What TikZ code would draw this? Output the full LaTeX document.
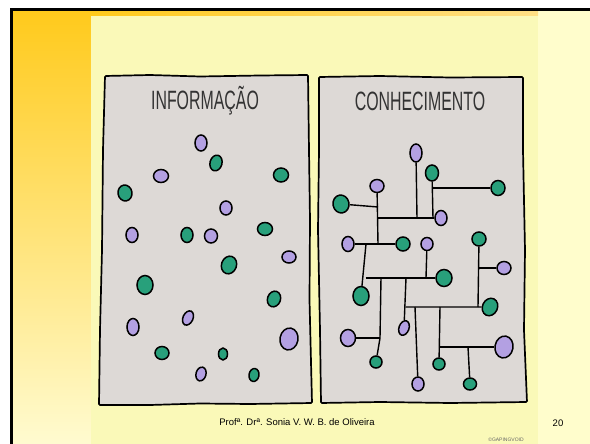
\documentclass[tikz,border=0pt]{standalone}
\usepackage{fontspec}
\setmainfont{Liberation Sans}
\newfontfamily\titlefont[FakeStretch=0.6]{Liberation Sans}
\usetikzlibrary{shapes.geometric}

\definecolor{dotgreen}{HTML}{28A07B}
\definecolor{dotpurple}{HTML}{B3A0E2}
\definecolor{panelgray}{HTML}{DDD9D6}
\definecolor{picyellow}{HTML}{FAF9B8}
\definecolor{slidecream}{HTML}{FFFDCC}
\definecolor{slideorange}{HTML}{FFCA1C}
\definecolor{slidepale}{HTML}{FFFBD0}
\definecolor{bandlight}{HTML}{FFDF85}

\tikzset{
  dot/.style={ellipse, draw=black, line width=1.5pt, inner sep=0pt},
  gdot/.style={dot, fill=dotgreen},
  pdot/.style={dot, fill=dotpurple},
  wire/.style={line width=1.4pt},
  panel/.style={draw=black, line width=1.7pt, fill=panelgray, rounded corners=1pt},
  paneltitle/.style={font=\titlefont\fontsize{26.5}{28}\selectfont, text=black!80},
}

\begin{document}
\begin{tikzpicture}[x=1pt,y=-1pt]
\useasboundingbox (0,0) rectangle (590,444);

% slide background
\fill[white] (0,0) rectangle (590,444);
\fill[slidecream] (13,11) rectangle (590,444);
\shade[top color=slideorange, bottom color=slidepale] (13,11) rectangle (91,444);
\shade[left color=slideorange, right color=bandlight] (91,11) rectangle (538,16);
\fill[picyellow] (91,16) rectangle (538,444);
\draw[line width=3pt] (11.5,9.5) rectangle (600,460);

% the two panels
\draw[panel] (105,76) -- (150,75) -- (200,76.5) -- (260,75.5) -- (308,75)
  -- (309,150) -- (310,220) -- (309.5,300) -- (312,403) -- (250,404)
  -- (200,403.5) -- (150,405) -- (99,405) -- (100,330) -- (102,250)
  -- (103,150) -- cycle;
\draw[panel] (319,77) -- (380,76) -- (450,77.5) -- (523,77) -- (523,150)
  -- (525,250) -- (524,330) -- (527,402) -- (450,403) -- (380,402)
  -- (321,403) -- (320,330) -- (318,230) -- (319,150) -- cycle;

\node[paneltitle] (tinfo) at (205,101) {INFORMAÇÃO};
\node[paneltitle] (tconh) at (420,101) {CONHECIMENTO};

% loose dots
\def\infodots{a1/201/143/pdot/12/16/0, a2/216/163/gdot/12/16/-15,
  a3/161/176/pdot/15/13/0, a4/281/175/gdot/15/14/0, a5/125/193/gdot/14/16/10,
  a6/226/208/pdot/12/14/0, a7/132/235/pdot/12/15/0, a8/187/235/gdot/12/15/0,
  a9/211/236/pdot/13/14/0, a10/265/229/gdot/15/13/0, a11/289/257/pdot/14/12/0,
  a12/229/265/gdot/15/18/-20, a13/145/285/gdot/16/19/0, a14/274/299/gdot/13/16/-20,
  a15/188/318/pdot/10/15/-25, a16/133/327/pdot/12/17/0, a17/289/339/pdot/18/22/-10,
  a18/162/353/gdot/14/13/0, a19/223/354/gdot/9/12/0, a20/201/374/pdot/10/14/-15,
  a21/254/375/gdot/10/13/-10}
\foreach \n/\x/\y/\c/\w/\h/\r in \infodots
  \node[\c, minimum width=\w pt, minimum height=\h pt, rotate=\r] (\n) at (\x,\y) {};

% linked dots
\def\knowdots{b1/416/153/pdot/12/18/0, b2/432/173/gdot/13/16/0,
  b3/498/188/gdot/14/15/0, b4/377/186/pdot/14/13/0, b5/341/204/gdot/16/18/10,
  b6/441/218/pdot/12/15/0, b7/348/244/pdot/12/15/0, b8/403/244/gdot/14/14/0,
  b9/427/244/pdot/12/13/0, b10/479/239/gdot/14/14/0, b11/504/268/pdot/14/13/0,
  b12/444/278/gdot/16/17/0, b13/361/296/gdot/16/19/0, b14/490/307/gdot/15/18/-25,
  b15/404/328/pdot/10/15/-20, b16/348/338/pdot/15/17/0, b17/504/347/pdot/18/22/-10,
  b18/376/362/gdot/12/12/0, b19/439/364/gdot/12/12/0, b20/418/384/pdot/12/14/0,
  b21/470/384/gdot/13/12/0}
\foreach \n/\x/\y/\c/\w/\h/\r in \knowdots
  \node[\c, minimum width=\w pt, minimum height=\h pt, rotate=\r] (\n) at (\x,\y) {};

\coordinate (j1) at (417,218);
\coordinate (j2) at (433,218);
\coordinate (j3) at (433,188);
\coordinate (j4) at (378,244);
\coordinate (j5) at (378,207);
\coordinate (j6) at (378,218);
\coordinate (j7) at (366,244);
\coordinate (j8) at (365.5,278);
\coordinate (j9) at (381,278);
\coordinate (j10) at (406,278);
\coordinate (j11) at (426,278);
\coordinate (j12) at (380,338);
\coordinate (j13) at (406,307);
\coordinate (j14) at (415,307);
\coordinate (j15) at (440,307);
\coordinate (j16) at (478,307);
\coordinate (j17) at (478.5,268);
\coordinate (j18) at (439.5,347);
\coordinate (j19) at (468,347);

\draw[wire] (b1) -- (j1);
\draw[wire] (b2) -- (j2);
\draw[wire] (j3) -- (b3);
\draw[wire] (b4) -- (j4);
\draw[wire] (b5) -- (j5);
\draw[wire] (j6) -- (b6);
\draw[wire] (b7) -- (b8);
\draw[wire] (j7) -- (b13);
\draw[wire] (j8) -- (b12);
\draw[wire] (b9) -- (j11);
\draw[wire] (j9) -- (j12) -- (b18);
\draw[wire] (b16) -- (j12);
\draw[wire] (j10) -- (b15);
\draw[wire] (j13) -- (b14);
\draw[wire] (b10) -- (j16);
\draw[wire] (j17) -- (b11);
\draw[wire] (j14) -- (b20);
\draw[wire] (j15) -- (b19);
\draw[wire] (j18) -- (b17);
\draw[wire] (j19) -- (b21);

% footer
\node[font=\fontsize{9.5}{11}\selectfont] (author) at (297,422) {Profª. Drª. Sonia V. W. B. de Oliveira};
\node[font=\fontsize{9.5}{11}\selectfont] (pagenum) at (558,423) {20};
\node[font=\fontsize{5}{6}\selectfont, text=black!60] (credit) at (506,439.5) {©GAPINGVOID};

\end{tikzpicture}
\end{document}
